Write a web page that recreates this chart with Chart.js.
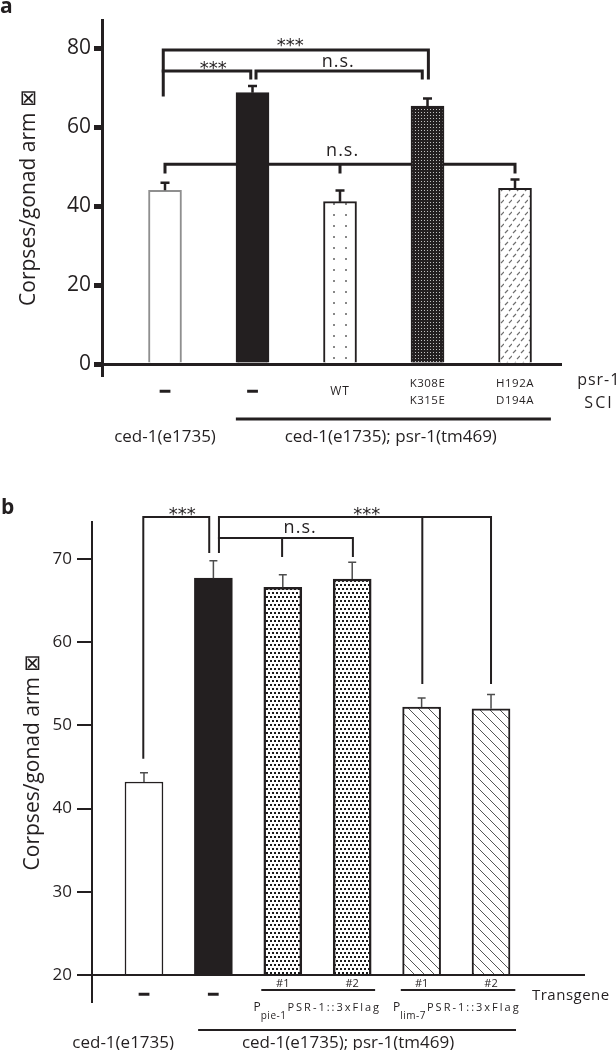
<!DOCTYPE html>
<html>
<head>
<meta charset="utf-8">
<script src="https://cdn.jsdelivr.net/npm/chart.js@4.4.0/dist/chart.umd.min.js"></script>
<style>
  body { margin: 0; background: #fff; }
  #wrap { position: relative; width: 616px; height: 1050px; overflow: hidden; }
  canvas { position: absolute; left: 0; }
  #chartA { top: 0; }
  #chartB { top: 480px; }
</style>
</head>
<body>
<div id="wrap">
  <canvas id="chartA" width="616" height="470"></canvas>
  <canvas id="chartB" width="616" height="570"></canvas>
</div>
<script>
const INK = '#231f20';
const FONT = '"Open Sans", "Noto Sans", sans-serif';

// panel a
const aSci = [['−'], ['−'], ['WT'], ['K308E', 'K315E'], ['H192A', 'D194A']];
const aGroups = ['ced-1(e1735)', 'ced-1(e1735); psr-1(tm469)'];
const aValues = [44.0, 68.7, 41.1, 65.3, 44.5];
const aErrors = [1.9, 1.7, 2.8, 1.9, 2.2];
const aYTicks = [0, 20, 40, 60, 80];

// panel b
const bTransgene = ['−', '−', '#1', '#2', '#1', '#2'];
const bPromoters = ['pie-1', 'lim-7'];
const bGroups = ['ced-1(e1735)', 'ced-1(e1735); psr-1(tm469)'];
const bValues = [43.2, 67.7, 66.6, 67.6, 52.2, 52.0];
const bErrors = [1.1, 2.1, 1.5, 2.0, 1.1, 1.7];
const bYTicks = [20, 30, 40, 50, 60, 70];

// fill patterns
function tile(w, h, bg, draw) {
  const c = document.createElement('canvas');
  c.width = w; c.height = h;
  const g = c.getContext('2d');
  g.fillStyle = bg;
  g.fillRect(0, 0, w, h);
  draw(g);
  return g.createPattern(c, 'repeat');
}
const sparseDots = tile(12, 11, '#fff', g => { g.fillStyle = '#888'; g.fillRect(9, 5, 2, 2); });
const darkDots = tile(3, 3, INK, g => { g.fillStyle = '#c0c0c0'; g.fillRect(1, 1, 1, 1); });
const slashes = tile(8, 12, '#fff', g => {
  g.strokeStyle = '#6e6e6e'; g.lineWidth = 1.2;
  g.beginPath();
  g.moveTo(1, 5); g.lineTo(4, 2);
  g.moveTo(5, 11); g.lineTo(8, 8);
  g.stroke();
});
const blackDots = tile(4, 8, '#fff', g => {
  g.fillStyle = '#1a1a1a';
  g.fillRect(0, 0, 2, 2);
  g.fillRect(2, 4, 2, 2);
});
const hatch = tile(10, 10, '#fff', g => {
  g.strokeStyle = '#555'; g.lineWidth = 1;
  g.beginPath();
  g.moveTo(0, 0); g.lineTo(10, 10);
  g.moveTo(-1, 9); g.lineTo(1, 11);
  g.moveTo(9, -1); g.lineTo(11, 1);
  g.stroke();
});

// drawing helpers
function text(ctx, str, x, y, font, align = 'center', spacing = '0px') {
  ctx.font = font;
  ctx.textAlign = align;
  ctx.textBaseline = 'alphabetic';
  ctx.letterSpacing = spacing;
  ctx.fillStyle = INK;
  ctx.fillText(str, x, y);
  ctx.letterSpacing = '0px';
}

function dash(ctx, x, y) {
  ctx.font = 'bold 15px "DejaVu Sans"';
  ctx.textAlign = 'center';
  ctx.textBaseline = 'alphabetic';
  ctx.fillStyle = INK; ctx.strokeStyle = INK; ctx.lineWidth = 1.4;
  ctx.fillText('−', x, y);
  ctx.strokeText('−', x, y);
}

function hline(ctx, x1, x2, y, w) {
  ctx.lineWidth = w; ctx.strokeStyle = INK; ctx.lineCap = 'butt';
  ctx.beginPath(); ctx.moveTo(x1, y); ctx.lineTo(x2, y); ctx.stroke();
}

function bracket(chart, b) {
  const { ctx, scales: { x, y } } = chart;
  const yy = y.getPixelForValue(b.y);
  ctx.beginPath();
  ctx.moveTo(x.getPixelForValue(b.x1), yy);
  ctx.lineTo(x.getPixelForValue(b.x2), yy);
  b.drops.forEach(([dx, dy]) => {
    ctx.moveTo(x.getPixelForValue(dx), yy);
    ctx.lineTo(x.getPixelForValue(dx), y.getPixelForValue(dy));
  });
  ctx.stroke();
}

function errorBars(chart, values, errors, color, width, cap) {
  const { ctx, scales: { x, y } } = chart;
  ctx.save();
  ctx.strokeStyle = color; ctx.lineWidth = width; ctx.lineCap = 'butt';
  values.forEach((v, i) => {
    const cx = x.getPixelForValue(i);
    const y0 = y.getPixelForValue(v);
    const y1 = y.getPixelForValue(v + errors[i]);
    ctx.beginPath();
    ctx.moveTo(cx, y0); ctx.lineTo(cx, y1);
    ctx.moveTo(cx - cap / 2, y1); ctx.lineTo(cx + cap / 2, y1);
    ctx.stroke();
  });
  ctx.restore();
}

function promoter(ctx, cx, base, sub) {
  const f1 = '12px ' + FONT, f2 = '10px ' + FONT, f3 = '11px ' + FONT;
  ctx.font = f1; ctx.letterSpacing = '0px';
  const wP = ctx.measureText('P').width;
  ctx.font = f2; ctx.letterSpacing = '0.5px';
  const wS = ctx.measureText(sub).width;
  ctx.font = f3; ctx.letterSpacing = '2px';
  const wT = ctx.measureText('PSR-1::3xFlag').width;
  let x0 = cx - (wP + wS + wT) / 2;
  text(ctx, 'P', x0, base, f1, 'left');
  text(ctx, sub, x0 + wP, base + 8, f2, 'left', '0.5px');
  text(ctx, 'PSR-1::3xFlag', x0 + wP + wS + 1, base, f3, 'left', '2px');
}

const panelA = {
  id: 'panelA',
  beforeDatasetsDraw(chart) {
    const ctx = chart.ctx;
    ctx.save();
    ctx.strokeStyle = INK; ctx.lineWidth = 3; ctx.lineCap = 'square';
    bracket(chart, { x1: 0, x2: 4, y: 50.6, drops: [[0, 48.6], [2, 48.6], [4, 48.6]] });
    ctx.restore();
  },
  afterDatasetsDraw(chart) {
    const { ctx, scales: { x, y } } = chart;
    errorBars(chart, aValues, aErrors, INK, 2.5, 9);
    ctx.save();
    ctx.strokeStyle = INK; ctx.lineWidth = 3; ctx.lineCap = 'square';
    bracket(chart, { x1: -0.02, x2: 3.01, y: 79.5, drops: [[-0.02, 68.1], [3.01, 72.4]] });
    bracket(chart, { x1: -0.02, x2: 0.98, y: 74.2, drops: [[0.98, 72.4]] });
    bracket(chart, { x1: 1.04, x2: 2.94, y: 74.2, drops: [[1.04, 72.4], [2.94, 72.4]] });

    const star = '18px "DejaVu Sans"', ns = '18px ' + FONT;
    text(ctx, '***', x.getPixelForValue(1.43), y.getPixelForValue(79.2), star);
    text(ctx, '***', x.getPixelForValue(0.55), y.getPixelForValue(73.4), star);
    text(ctx, 'n.s.', x.getPixelForValue(1.98), y.getPixelForValue(75.2), ns, 'center', '1px');
    text(ctx, 'n.s.', x.getPixelForValue(2.03), y.getPixelForValue(52.7), ns, 'center', '1px');

    const base = y.getPixelForValue(0);
    aSci.forEach((lines, i) => {
      const cx = x.getPixelForValue(i);
      if (lines[0] === '−') dash(ctx, cx, base + 32);
      else if (lines.length === 1) text(ctx, lines[0], cx, base + 31, '12px ' + FONT, 'center', '1px');
      else {
        text(ctx, lines[0], cx, base + 23, '11.5px ' + FONT, 'center', '0.5px');
        text(ctx, lines[1], cx, base + 39.5, '11.5px ' + FONT, 'center', '0.5px');
      }
    });
    text(ctx, 'psr-1', x.getPixelForValue(4.71), base + 21, '16px ' + FONT, 'left', '1px');
    text(ctx, 'SCI', x.getPixelForValue(4.96), base + 44, '16px ' + FONT, 'center', '2px');
    hline(ctx, x.getPixelForValue(0.81), x.getPixelForValue(4.41), base + 55, 3);
    text(ctx, aGroups[0], x.getPixelForValue(0), base + 78, '17px ' + FONT);
    text(ctx, aGroups[1], x.getPixelForValue(2.58), base + 78, '17px ' + FONT);

    text(ctx, 'a', 0, 13, 'bold 21px ' + FONT, 'left');
    ctx.restore();
  }
};

const panelB = {
  id: 'panelB',
  afterDatasetsDraw(chart) {
    const { ctx, scales: { x, y } } = chart;
    errorBars(chart, bValues, bErrors, '#4d4d4d', 1.5, 8);
    ctx.save();
    ctx.strokeStyle = INK; ctx.lineWidth = 2; ctx.lineCap = 'square';
    bracket(chart, { x1: -0.01, x2: 0.94, y: 75.05, drops: [[-0.01, 46.1], [0.94, 70.84]] });
    bracket(chart, { x1: 1.08, x2: 5.0, y: 75.05, drops: [[1.08, 70.84], [4.01, 55.1], [5.0, 55.1]] });
    bracket(chart, { x1: 1.08, x2: 3.01, y: 72.52, drops: [[1.99, 70.36], [3.01, 70.36]] });

    const star = '18px "DejaVu Sans"', ns = '18px ' + FONT;
    text(ctx, '***', x.getPixelForValue(0.55), y.getPixelForValue(74.69), star);
    text(ctx, '***', x.getPixelForValue(3.21), y.getPixelForValue(74.69), star);
    text(ctx, 'n.s.', x.getPixelForValue(2.25), y.getPixelForValue(73.1), ns, 'center', '1px');

    const base = y.getPixelForValue(20);
    bTransgene.forEach((t, i) => {
      const cx = x.getPixelForValue(i);
      if (t === '−') dash(ctx, cx, base + 24);
      else text(ctx, t, cx, base + 12, '11px ' + FONT);
    });
    hline(ctx, x.getPixelForValue(1.69), x.getPixelForValue(3.33), base + 15, 2);
    hline(ctx, x.getPixelForValue(3.70), x.getPixelForValue(5.35), base + 15, 2);
    promoter(ctx, x.getPixelForValue(2.49), base + 36, bPromoters[0]);
    promoter(ctx, x.getPixelForValue(4.50), base + 36, bPromoters[1]);
    text(ctx, 'Transgene', x.getPixelForValue(5.59), base + 25, '15px ' + FONT, 'left', '0.5px');
    hline(ctx, x.getPixelForValue(0.78), x.getPixelForValue(5.36), base + 55, 2);
    text(ctx, bGroups[0], x.getPixelForValue(-0.30), base + 73, '17px ' + FONT);
    text(ctx, bGroups[1], x.getPixelForValue(2.94), base + 73, '17px ' + FONT);

    text(ctx, 'b', 1, 34, 'bold 21px ' + FONT, 'left');
    ctx.restore();
  }
};

function yAxis(ticks, zero, opts) {
  return {
    min: opts.min, max: opts.max,
    afterBuildTicks: s => { s.ticks = ticks.map(v => ({ value: v })); },
    afterFit: s => { s.width = opts.width; },
    border: { display: true, color: INK, width: opts.line },
    grid: {
      color: c => (c.tick && c.tick.value === zero ? INK : 'rgba(0,0,0,0)'),
      lineWidth: opts.line,
      tickColor: INK, tickWidth: opts.tickWidth, tickLength: opts.tickLength
    },
    ticks: { color: INK, font: { family: FONT, size: opts.fontSize }, padding: opts.pad },
    title: {
      display: true, text: 'Corpses/gonad arm ⊠', color: INK,
      font: { family: FONT, size: 21 }, padding: { top: opts.titlePad, bottom: 0 }
    }
  };
}

const common = {
  responsive: false, animation: false, events: [],
  plugins: { legend: { display: false }, tooltip: { enabled: false } }
};

new Chart(document.getElementById('chartA'), {
  type: 'bar',
  data: {
    datasets: [{
      data: aValues.map((v, i) => ({ x: i, y: v })),
      backgroundColor: ['#fff', INK, sparseDots, darkDots, slashes],
      borderColor: ['#8f8f8f', INK, INK, INK, INK],
      borderWidth: 2, borderSkipped: 'bottom', barThickness: 33
    }]
  },
  options: {
    ...common,
    layout: { padding: { top: 20, right: 54, bottom: 95, left: 0 } },
    scales: {
      x: { type: 'linear', offset: false, min: -0.72, max: 4.537, display: false },
      y: yAxis(aYTicks, 0, { min: -2.78, max: 87.09, width: 102, line: 3, tickWidth: 5, tickLength: 8, fontSize: 21, pad: 3, titlePad: 16 })
    }
  },
  plugins: [panelA]
});

new Chart(document.getElementById('chartB'), {
  type: 'bar',
  data: {
    datasets: [{
      data: bValues.map((v, i) => ({ x: i, y: v })),
      base: 20,
      backgroundColor: ['#fff', INK, blackDots, blackDots, hatch, hatch],
      borderColor: INK,
      borderWidth: [1.5, 1.5, 2.5, 2.5, 2, 2], borderSkipped: 'bottom', barThickness: 38
    }]
  },
  options: {
    ...common,
    layout: { padding: { top: 42, right: 31, bottom: 48, left: 0 } },
    scales: {
      x: { type: 'linear', offset: false, min: -0.749, max: 6.354, display: false },
      y: yAxis(bYTicks, 20, { min: 16.75, max: 74.45, width: 92, line: 2, tickWidth: 2, tickLength: 15, fontSize: 17, pad: 5, titlePad: 20 })
    }
  },
  plugins: [panelB]
});
</script>
</body>
</html>
